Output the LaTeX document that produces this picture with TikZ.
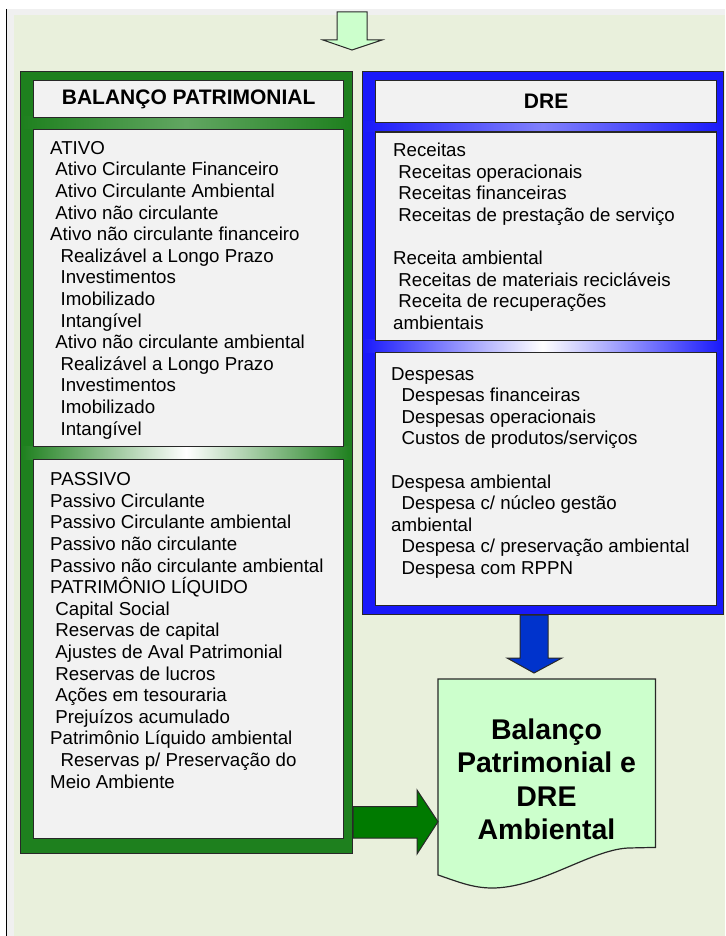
\documentclass[tikz,border=0pt]{standalone}
\usepackage{fontspec}
\setmainfont{Liberation Sans}
\usetikzlibrary{calc}
\definecolor{bgg}{RGB}{233,240,220}
\definecolor{pagegray}{RGB}{240,240,240}
\definecolor{paneg}{RGB}{242,242,242}
\definecolor{gfill}{RGB}{30,128,30}
\definecolor{bfill}{RGB}{25,25,250}
\definecolor{garrow}{RGB}{0,122,0}
\definecolor{barrow}{RGB}{0,51,204}
\definecolor{lgreen}{RGB}{204,255,204}
\definecolor{edge}{RGB}{40,40,40}
\newcommand\lrows[1]{\vtop{\halign{##\hfil\cr#1\crcr}}}
\newcommand\crows[1]{\vtop{\halign{\hfil##\hfil\cr#1\crcr}}}
\newcommand\indA{\kern5.2pt}
\newcommand\indB{\kern10.4pt}
\tikzset{
  outerbox/.style={draw=edge, line width=1pt, inner sep=0pt, anchor=north west},
  pane/.style={draw=edge, line width=1.3pt, fill=paneg, inner sep=0pt, anchor=north west},
  titletxt/.style={font=\bfseries\fontsize{21}{24}\selectfont, inner sep=0pt},
  listtxt/.style={font=\fontsize{18.7}{21.6}\selectfont, inner sep=0pt, anchor=base west},
  fatarrow/.style={draw=edge, line width=1pt}
}
\begin{document}
\begin{tikzpicture}[x=1pt,y=-1pt]
\useasboundingbox (0,0) rectangle (725,936);
% background
\fill[white] (0,0) rectangle (725,936);
\fill[pagegray] (7,9) rectangle (725,936);
\fill[bgg] (14,15) rectangle (725,936);
\draw[black, line width=1.5pt] (6.5,9) -- (6.5,936);

% outer frames
\node[outerbox, fill=gfill, minimum width=332pt, minimum height=782pt] (green) at (20,71) {};
\node[outerbox, fill=bfill, minimum width=361pt, minimum height=543pt] (blue) at (362,71) {};

% gradient bands
\shade[left color=gfill, right color=gfill, middle color=gfill!70!white] (21,117) rectangle (351,129);
\shade[left color=gfill, right color=gfill, middle color=white] (21,446) rectangle (351,459);
\shade[left color=bfill, right color=bfill, middle color=bfill!55!white] (363,122) rectangle (722,131.5);
\shade[left color=bfill, right color=bfill, middle color=white] (363,339) rectangle (722,352);

% inner panes
\node[pane, minimum width=310pt, minimum height=37pt] (bptitle) at (33,80) {};
\node[pane, minimum width=310pt, minimum height=317pt] (ativo) at (33,129) {};
\node[pane, minimum width=310pt, minimum height=379pt] (passivo) at (33,459) {};
\node[pane, minimum width=341pt, minimum height=42pt] (dretitle) at (375,80) {};
\node[pane, minimum width=341pt, minimum height=208pt] (receitas) at (375,131.5) {};
\node[pane, minimum width=341pt, minimum height=253pt] (despesas) at (375,352) {};

% titles
\node[titletxt] (bptxt) at (bptitle.center) {BALANÇO PATRIMONIAL};
\node[titletxt] (dretxt) at (dretitle.center) {DRE};

% lists
\node[listtxt] (ativotxt) at (50,154.3) {\lrows{%
ATIVO\cr
\indA Ativo Circulante Financeiro\cr
\indA Ativo Circulante Ambiental\cr
\indA Ativo não circulante\cr
Ativo não circulante financeiro\cr
\indB Realizável a Longo Prazo\cr
\indB Investimentos\cr
\indB Imobilizado\cr
\indB Intangível\cr
\indA Ativo não circulante ambiental\cr
\indB Realizável a Longo Prazo\cr
\indB Investimentos\cr
\indB Imobilizado\cr
\indB Intangível}};

\node[listtxt] (passivotxt) at (50,485.7) {\lrows{%
PASSIVO\cr
Passivo Circulante\cr
Passivo Circulante ambiental\cr
Passivo não circulante\cr
Passivo não circulante ambiental\cr
PATRIMÔNIO LÍQUIDO\cr
\indA Capital Social\cr
\indA Reservas de capital\cr
\indA Ajustes de Aval Patrimonial\cr
\indA Reservas de lucros\cr
\indA Ações em tesouraria\cr
\indA Prejuízos acumulado\cr
Patrimônio Líquido ambiental\cr
\indB Reservas p/ Preservação do\cr
Meio Ambiente}};

\node[listtxt] (receitastxt) at (393,156.6) {\lrows{%
Receitas\cr
\indA Receitas operacionais\cr
\indA Receitas financeiras\cr
\indA Receitas de prestação de serviço\cr
\cr
Receita ambiental\cr
\indA Receitas de materiais recicláveis\cr
\indA Receita de recuperações\cr
ambientais}};

\node[listtxt] (despesastxt) at (391,380) {\lrows{%
Despesas\cr
\indB Despesas financeiras\cr
\indB Despesas operacionais\cr
\indB Custos de produtos/serviços\cr
\cr
Despesa ambiental\cr
\indB Despesa c/ núcleo gestão\cr
ambiental\cr
\indB Despesa c/ preservação ambiental\cr
\indB Despesa com RPPN}};

% document shape
\node[inner sep=0pt, minimum width=217pt, minimum height=168pt, anchor=north west] (doc) at (438,679) {};
\draw[fill=lgreen, draw=edge, line width=1.2pt]
  (doc.north west) -- (doc.north east) -- (doc.south east) -- (628,848)
  .. controls (590,850) and (540,888) .. (492,888)
  .. controls (472,888) and (456,881) .. (438,875) -- cycle;
\node[font=\bfseries\fontsize{28.5}{33.5}\selectfont, inner sep=0pt, anchor=base] (doctxt) at (546.5,739.2)
  {\crows{Balanço\cr Patrimonial e\cr DRE\cr Ambiental}};

% top arrow
\draw[fatarrow, fill=lgreen] (337,12) -- (367,12) -- (367,40) -- (382,40) -- (352,50) -- (323,40) -- (337,40) -- cycle;
% blue arrow: DRE -> document
\coordinate (btip) at (534,673);
\draw[fatarrow, fill=barrow] (blue.south -| 520,0) -- (blue.south -| 548,0) -- (548,658) -- (562,658)
  -- (btip) -- (507,658) -- (520,658) -- cycle;
% green arrow: balance -> document
\draw[fatarrow, fill=garrow] (green.east |- 0,806.7) -- (417,806.7) -- (417,790) -- (doc.west |- 0,821.7)
  -- (417,854) -- (417,838) -- (green.east |- 0,838) -- cycle;
\end{tikzpicture}
\end{document}
